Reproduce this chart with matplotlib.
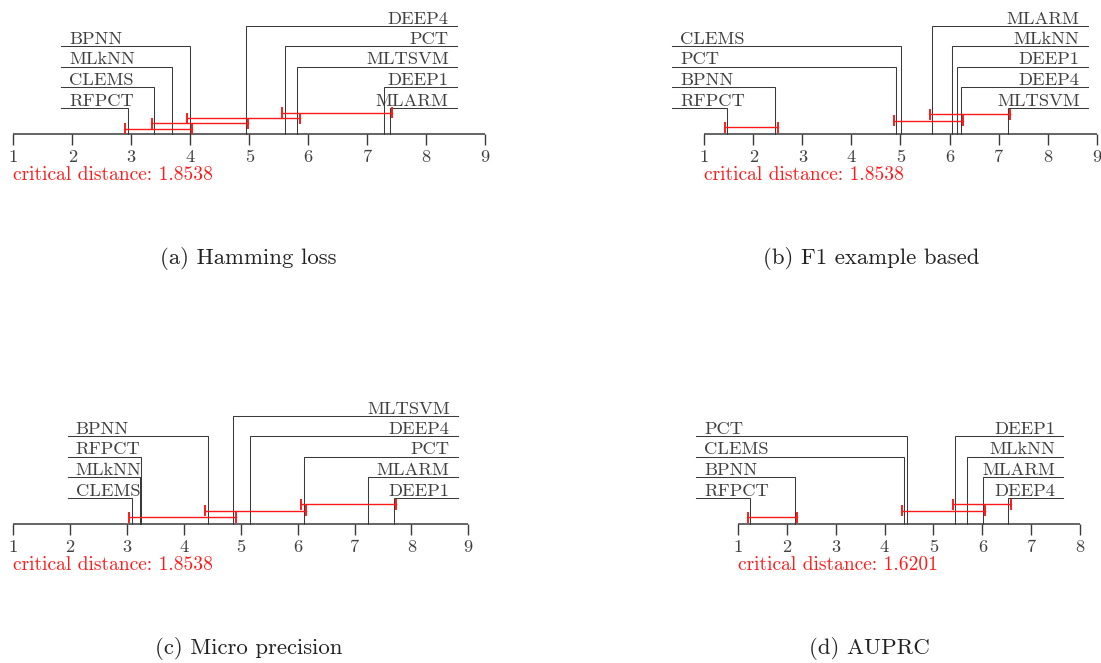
import matplotlib
matplotlib.use('Agg')
import matplotlib.pyplot as plt

W, H = 1101, 663
plt.rcParams['font.family'] = ['cmr10', 'DejaVu Serif']
plt.rcParams['axes.formatter.use_mathtext'] = True

# ---------------- data ----------------
titles = ['(a) Hamming loss', '(b) F1 example based', '(c) Micro precision', '(d) AUPRC']
cd_values = [1.8538, 1.8538, 1.8538, 1.6201]
max_rank = [9, 9, 9, 8]

names_a = ['RFPCT', 'CLEMS', 'MLkNN', 'BPNN', 'DEEP4', 'PCT', 'MLTSVM', 'DEEP1', 'MLARM']
ranks_a = [2.94, 3.39, 3.69, 3.99, 4.94, 5.60, 5.81, 7.28, 7.38]

names_b = ['RFPCT', 'BPNN', 'PCT', 'CLEMS', 'MLARM', 'MLkNN', 'DEEP1', 'DEEP4', 'MLTSVM']
ranks_b = [1.47, 2.45, 4.91, 5.02, 5.64, 6.04, 6.15, 6.23, 7.19]

names_c = ['CLEMS', 'MLkNN', 'RFPCT', 'BPNN', 'MLTSVM', 'DEEP4', 'PCT', 'MLARM', 'DEEP1']
ranks_c = [3.08, 3.22, 3.25, 4.42, 4.87, 5.16, 6.11, 7.24, 7.69]

names_d = ['RFPCT', 'BPNN', 'CLEMS', 'PCT', 'DEEP1', 'MLkNN', 'MLARM', 'DEEP4']
ranks_d = [1.26, 2.17, 4.40, 4.46, 5.44, 5.69, 6.01, 6.53]

all_names = [names_a, names_b, names_c, names_d]
all_ranks = [ranks_a, ranks_b, ranks_c, ranks_d]

# ---------------- layout (pixels) ----------------
# x of rank 1, x of max rank, axis y, left line start, right line end, caption centre
layout = [
    dict(x0=13.3, x1=485.3, ay=134, lft=61.0, rgt=456.7, cap=(248, 259)),
    dict(x0=704.3, x1=1096.7, ay=134, lft=672.3, rgt=1087.7, cap=(871, 259)),
    dict(x0=13.3, x1=468.3, ay=524, lft=67.7, rgt=457.7, cap=(249, 649)),
    dict(x0=737.7, x1=1080.3, ay=524, lft=696.0, rgt=1063.3, cap=(869, 649)),
]

LINE = '#3a3a3a'
TEXT = '#404040'
RED = '#ff1a1a'
FS = 13.3


def find_cliques(ranks, cd):
    out = []
    n = len(ranks)
    for i in range(n):
        j = i
        while j + 1 < n and ranks[j + 1] - ranks[i] <= cd + 1e-9:
            j += 1
        if j > i and not any(a <= i and j <= b for a, b in out):
            out.append((i, j))
    return out


fig = plt.figure(figsize=(W / 100, H / 100), dpi=100)

for p in range(4):
    L = layout[p]
    names, ranks, cd, mr = all_names[p], all_ranks[p], cd_values[p], max_rank[p]
    ppu = (L['x1'] - L['x0']) / (mr - 1)
    ax = fig.add_axes([0, 0, 1, 1])
    ax.set_xlim(1 - L['x0'] / ppu, 1 + (W - L['x0']) / ppu)
    ax.set_ylim(H, 0)
    ax.axis('off')
    px = 1.0 / ppu  # one pixel in rank units
    ay = L['ay']

    # axis and ticks
    ax.plot([1, mr], [ay, ay], color=LINE, lw=1.1, solid_capstyle='butt', zorder=2)
    for r in range(1, mr + 1):
        ax.plot([r, r], [ay, ay + 11], color=LINE, lw=1.0, solid_capstyle='butt', zorder=2)
        ax.text(r, ay + 28.5, str(r), ha='center', va='baseline', fontsize=FS,
                color=TEXT)

    # method labels
    n = len(names)
    nl = n // 2
    row0 = ay - 26.3
    step = 20.5
    lft = 1 + (L['lft'] - L['x0']) * px
    rgt = 1 + (L['rgt'] - L['x0']) * px
    for i in range(n):
        if i < nl:
            row = i
            y = row0 - row * step
            ax.plot([lft, ranks[i], ranks[i]], [y, y, ay], color=LINE, lw=0.75,
                    solid_joinstyle='miter', zorder=1)
            ax.text(lft + 8 * px, y - 2.2, names[i], ha='left', va='baseline',
                    fontsize=FS, color=TEXT)
        else:
            row = n - 1 - i
            y = row0 - row * step
            ax.plot([rgt, ranks[i], ranks[i]], [y, y, ay], color=LINE, lw=0.75,
                    solid_joinstyle='miter', zorder=1)
            ax.text(rgt - 8 * px, y - 2.2, names[i], ha='right', va='baseline',
                    fontsize=FS, color=TEXT)

    # cliques (critical-distance bars)
    cl = find_cliques(ranks, cd)
    gap = ay - row0
    ext = 0.045
    for k, (a, b) in enumerate(cl):
        y = ay - (k + 1) * gap / (len(cl) + 1)
        lo, hi = ranks[a] - ext, ranks[b] + ext
        ax.plot([lo, hi], [y, y], color=RED, lw=1.0, zorder=3)
        for xx in (lo, hi):
            ax.plot([xx, xx], [y - 4.5, y + 4.5], color=RED, lw=1.4, zorder=3)

    ax.text(1, ay + 46, 'critical distance: %.4f' % cd, ha='left', va='baseline',
            fontsize=14.0, color=RED)

    cx, cy = L['cap']
    ax.text(1 + (cx - L['x0']) * px, cy, titles[p], ha='center', va='center',
            fontsize=16.4, color='#222222')

fig.savefig('out.png', dpi=100)
